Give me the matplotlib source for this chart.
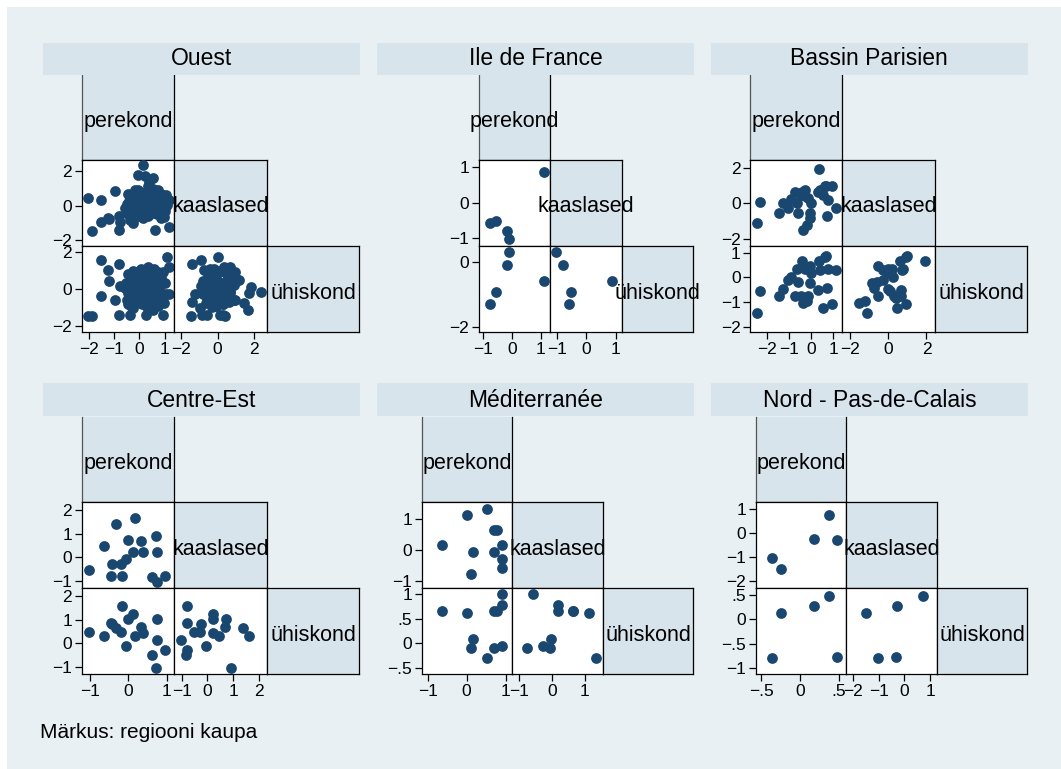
import matplotlib
matplotlib.use("Agg")
import matplotlib.pyplot as plt
from matplotlib.patches import Rectangle

plt.rcParams['font.family'] = ['Liberation Sans', 'DejaVu Sans']
plt.rcParams['axes.unicode_minus'] = True

W, H = 1061, 769
BG = "#e8f0f3"
STRIP = "#d7e4eb"
MARK = "#1a476f"

variables = ["perekond", "kaaslased", "ühiskond"]
regions = ["Ouest", "Ile de France", "Bassin Parisien",
           "Centre-Est", "Méditerranée", "Nord - Pas-de-Calais"]
note = "Märkus: regiooni kaupa"

# ---------------- data (one value per observation) ----------------
ouest_perekond = [-2.03, -1.90, -1.53, -1.53, -1.24, -1.21, -0.97, -0.81, -0.81, -0.77,
                  -0.57, -0.44, -0.37, -0.24, 0.27, 0.93, 1.08, 1.16, 1.16, 0.96,
                  0.62, -0.04, 0.13, 0.23, 0.53, 0.36, 0.76, 0.40, -0.17,
                  -0.55, -0.50, -0.45, -0.40, -0.35, -0.30, -0.30, -0.25, -0.20, -0.20,
                  -0.15, -0.10, -0.10, -0.05, 0.00, 0.00, 0.05, 0.10, 0.10, 0.15,
                  0.20, 0.20, 0.25, 0.30, 0.30, 0.35, 0.40, 0.40, 0.45, 0.50,
                  0.50, 0.55, 0.60, 0.60, 0.65, 0.70, 0.70, 0.75, 0.80, 0.85,
                  0.85, 0.90, 0.95, 1.00, 1.05, 0.15, -0.45, 0.55, 0.35, -0.05,
                  0.25, 0.45, 0.65, 0.05, -0.25]
ouest_kaaslased = [0.43, -1.45, -0.92, 0.35, -0.73, -0.80, 0.88, -0.59, -1.41, -0.92,
                   -0.14, -0.30, -0.82, -0.98, 0.14, 0.30, 0.05, 0.35, -1.25, -0.63,
                   -1.41, 1.82, 2.35, 1.73, 1.63, 1.14, 0.94, 1.41, 0.94,
                   -0.20, 0.10, -0.50, 0.30, -0.10, 0.50, -0.60, 0.00, 0.20, -0.35,
                   0.60, -0.20, 0.40, -0.60, 0.10, 0.70, -0.40, 0.30, -0.10, 0.50,
                   -0.50, 0.00, 0.80, -0.30, 0.20, -0.60, 0.40, -0.10, 0.60, 0.00,
                   -0.40, 0.30, 0.90, -0.20, 0.10, -0.50, 0.50, -0.10, 0.30, -0.70,
                   0.70, 0.00, 0.40, -0.30, 0.60, -0.70, 0.70, 0.95, 0.65, 0.90,
                   -0.20, 0.20, -0.35, 0.45, -0.80]
ouest_uhiskond = [-1.45, -1.45, 1.59, -0.36, 1.05, 0.45, -0.58, -1.43, 1.36, 0.14,
                  0.05, -0.81, -1.43, -1.05, -1.43, -1.43, 1.72, 1.18, -0.25, -0.76,
                  -0.69, 0.13, -0.18, -0.24, -1.14, 0.49, 0.90, -0.78, 0.60,
                  0.30, -0.60, 0.80, 0.00, -0.90, 0.50, 0.20, 1.00, -0.30, 0.60,
                  -0.70, 0.10, 0.90, -0.50, 0.40, -0.10, 1.10, -0.80, 0.70, 0.20,
                  -0.20, 0.90, 0.50, -1.00, 0.00, 0.50, 1.00, -0.50, -0.30, 0.30,
                  0.80, -0.80, 0.20, 1.10, -0.40, 0.40, 0.80, -0.90, 0.10, -0.20,
                  0.60, -0.60, 0.90, 0.30, -0.30, 0.00, -0.20, -0.60, 1.20, 0.30,
                  0.60, -0.10, 0.00, -0.45, -0.30]

idf_perekond = [-0.75, -0.55, -0.17, -0.11, 1.11]
idf_kaaslased = [-0.58, -0.53, -0.80, -1.04, 0.87]
idf_uhiskond = [-1.30, -0.92, -0.07, 0.31, -0.59]

bp_perekond = [-2.48, -2.35, -1.48, -1.29, -1.06, -0.94, -0.73, -0.64, -0.61, -0.48,
               -0.41, -0.38, -0.30, -0.27, -0.18, -0.15, -0.08, -0.08, 0.00, 0.30,
               0.35, 0.38, 0.53, 0.61, 0.68, 0.73, 0.76, 0.94, 1.14]
bp_kaaslased = [-1.10, 0.09, -0.53, 0.00, -0.28, 0.23, 0.66, 0.00, -0.57, 0.47,
                0.61, -1.52, 0.76, 0.40, -1.23, 0.28, -0.53, -0.85, 0.00, 0.66,
                1.93, 0.72, 0.47, 0.95, 0.99, -0.72, 0.19, 0.95, -0.25]
bp_uhiskond = [-1.46, -0.54, -0.74, -0.47, -0.10, 0.00, -0.75, 0.32, -0.20, -0.76,
               0.68, -1.05, 0.32, -0.85, -0.95, -0.76, 0.46, -0.22, 0.16, -0.51,
               0.65, 0.30, -1.26, 0.84, 0.86, -0.45, 0.32, -1.08, 0.30]

ce_perekond = [-1.04, -0.63, -0.46, -0.42, -0.32, -0.19, -0.16, -0.06, -0.02, 0.13,
               0.17, 0.32, 0.37, 0.61, 0.72, 0.76, 0.76, 0.97]
ce_kaaslased = [-0.54, 0.46, -0.79, -0.26, 1.39, -0.29, -0.79, -0.07, 0.74, 0.21,
                1.64, 0.67, 0.21, -0.83, 0.91, 0.21, -1.04, -0.80]
ce_uhiskond = [0.49, 0.31, 0.86, 0.80, 0.65, 0.49, 1.58, -0.10, 1.01, 1.23,
               0.31, 0.70, 0.44, -0.49, -1.02, 1.02, 0.14, -0.28]

med_perekond = [-0.64, 0.00, 0.15, 0.11, 0.51, 0.71, 0.77, 0.71, 0.90, 0.90, 0.90]
med_kaaslased = [0.19, 1.13, -0.04, -0.77, 1.35, 0.65, 0.65, -0.06, 0.19, -0.28, -0.58]
med_uhiskond = [0.65, 0.61, 0.09, -0.10, -0.29, 0.66, 0.66, -0.09, 0.77, -0.05, 1.00]

nord_perekond = [-0.355, -0.24, 0.18, 0.37, 0.47]
nord_kaaslased = [-1.03, -1.50, -0.27, 0.72, -0.31]
nord_uhiskond = [-0.78, 0.12, 0.27, 0.47, -0.77]

region_data = [
    (ouest_perekond, ouest_kaaslased, ouest_uhiskond),
    (idf_perekond, idf_kaaslased, idf_uhiskond),
    (bp_perekond, bp_kaaslased, bp_uhiskond),
    (ce_perekond, ce_kaaslased, ce_uhiskond),
    (med_perekond, med_kaaslased, med_uhiskond),
    (nord_perekond, nord_kaaslased, nord_uhiskond),
]

# tick values per region and variable
ticks_perekond = [[-2, -1, 0, 1], [-1, 0, 1], [-2, -1, 0, 1], [-1, 0, 1], [-1, 0, 1], [-0.5, 0, 0.5]]
ticks_kaaslased = [[-2, 0, 2], [-1, 0, 1], [-2, 0, 2], [-1, 0, 1, 2], [-1, 0, 1], [-2, -1, 0, 1]]
ticks_uhiskond = [[-2, 0, 2], [-2, 0], [-2, -1, 0, 1], [-1, 0, 1, 2], [-0.5, 0, 0.5, 1], [-1, -0.5, 0, 0.5]]

# ---------------- layout (pixels) ----------------
ranges = [
    [(-2.30, 1.39), (-2.35, 2.67), (-2.35, 2.33)],
    [(-1.13, 1.32), (-1.23, 1.21), (-2.18, 0.51)],
    [(-2.77, 1.41), (-2.40, 2.43), (-2.23, 1.27)],
    [(-1.22, 1.20), (-1.30, 2.32), (-1.30, 2.31)],
    [(-1.15, 1.16), (-1.22, 1.55), (-0.63, 1.12)],
    [(-0.57, 0.59), (-2.28, 1.26), (-1.12, 0.63)],
]
col_edges = [
    [81.7, 174.3, 266.7, 359.3],
    [479.0, 550.0, 621.7, 693.3],
    [750.3, 842.3, 934.7, 1027.3],
    [81.7, 174.3, 266.7, 359.3],
    [421.7, 512.0, 602.7, 693.3],
    [755.7, 846.0, 936.7, 1027.3],
]
row_edges_top = [75.0, 160.0, 246.0, 332.3]
row_edges_bot = [416.7, 502.3, 588.3, 674.3]
strip_x = [(42.7, 360.0), (377.3, 694.0), (710.7, 1028.0)]
strip_y = [(42.7, 74.5), (383.5, 416.5)]

fig = plt.figure(figsize=(W / 100, H / 100), dpi=100)
fig.patch.set_facecolor("white")
fig.patches.append(Rectangle((7 / W, 0), 1, 1 - 7 / H, transform=fig.transFigure,
                             facecolor=BG, edgecolor="none", zorder=-10))


def px_axes(x0, y0, x1, y1):
    return fig.add_axes([x0 / W, 1 - y1 / H, (x1 - x0) / W, (y1 - y0) / H])


def fmt(v):
    if v == int(v):
        s = str(int(v))
    else:
        s = ("%g" % v).replace("0.", ".")
    return s.replace("-", "\u2212")


TICKFS = 12.5
for i, name in enumerate(regions):
    cols = col_edges[i]
    rows = row_edges_top if i < 3 else row_edges_bot
    data = region_data[i]
    tks = [ticks_perekond[i], ticks_kaaslased[i], ticks_uhiskond[i]]
    rng = ranges[i]

    # strip with the region title
    sx0, sx1 = strip_x[i % 3]
    sy0, sy1 = strip_y[i // 3]
    fig.patches.append(Rectangle((sx0 / W, 1 - sy1 / H), (sx1 - sx0) / W, (sy1 - sy0) / H,
                                 transform=fig.transFigure, facecolor=STRIP,
                                 edgecolor="none", zorder=1))
    fig.text((sx0 + sx1) / 2 / W, 1 - (sy0 + sy1) / 2 / H, name, ha="center",
             va="center", fontsize=16.5, color="black")

    for r in range(3):
        for c in range(r + 1):
            ax = px_axes(cols[c], rows[r], cols[c + 1], rows[r + 1])
            ax.set_xlim(rng[c])
            ax.set_ylim(rng[r])
            for sp in ax.spines.values():
                sp.set_linewidth(0.9)
                sp.set_color("black")
            if r == c:
                ax.set_facecolor(STRIP)
                ax.set_xticks([])
                ax.set_yticks([])
                if r == 0:
                    ax.spines["top"].set_visible(False)
                    ax.spines["left"].set_color("#555555")
                fig.text((cols[c] + cols[c + 1]) / 2 / W,
                         1 - ((rows[r] + rows[r + 1]) / 2 + 4) / H,
                         variables[r], ha="center", va="center",
                         fontsize=15.5, color="black", zorder=10)
            else:
                ax.set_facecolor("white")
                ax.scatter(data[c], data[r], s=60, color=MARK, linewidths=0,
                           zorder=3, clip_on=False)
                if r == 2:
                    ax.set_xticks(tks[c])
                    ax.set_xticklabels([fmt(v) for v in tks[c]])
                else:
                    ax.set_xticks([])
                if c == 0:
                    ax.set_yticks(tks[r])
                    ax.set_yticklabels([fmt(v) for v in tks[r]])
                else:
                    ax.set_yticks([])
                ax.tick_params(axis="both", length=5, width=0.9, pad=2,
                               labelsize=TICKFS, color="black")

fig.text(39.5 / W, 1 - 733 / H, note, ha="left", va="center", fontsize=15)

fig.savefig("out.png", dpi=100, facecolor=fig.get_facecolor())
